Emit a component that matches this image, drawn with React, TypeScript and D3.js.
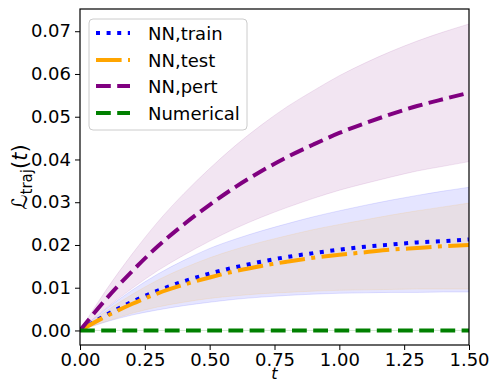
import { useEffect, useRef } from 'react';
import * as d3 from 'd3';

// sample times
const tValues = [0, 0.1, 0.2, 0.3, 0.4, 0.5, 0.6, 0.7, 0.8, 0.9, 1.0, 1.1, 1.2, 1.3, 1.4, 1.5];

// NN, train
const trainMean = [0, 0.0036, 0.0067, 0.0093, 0.0115, 0.0133, 0.0148, 0.0161, 0.0172, 0.0181, 0.0189, 0.0196, 0.0201, 0.0206, 0.0209, 0.0213];
const trainUpper = [0, 0.0050, 0.0094, 0.0132, 0.0164, 0.0192, 0.0214, 0.0233, 0.0250, 0.0266, 0.0280, 0.0293, 0.0305, 0.0316, 0.0326, 0.0335];
const trainLower = [0, 0.0020, 0.0036, 0.0048, 0.0058, 0.0066, 0.0073, 0.0078, 0.0082, 0.0085, 0.0087, 0.0088, 0.0089, 0.0089, 0.0090, 0.0090];

// NN, test
const testMean = [0, 0.0033, 0.0062, 0.0087, 0.0107, 0.0124, 0.0139, 0.0151, 0.0161, 0.0170, 0.0177, 0.0183, 0.0189, 0.0193, 0.0197, 0.0200];
const testUpper = [0, 0.0045, 0.0084, 0.0118, 0.0146, 0.0170, 0.0190, 0.0207, 0.0222, 0.0236, 0.0248, 0.0259, 0.0270, 0.0280, 0.0289, 0.0298];
const testLower = [0, 0.0021, 0.0040, 0.0055, 0.0066, 0.0075, 0.0081, 0.0086, 0.0089, 0.0092, 0.0094, 0.0095, 0.0096, 0.0097, 0.0097, 0.0097];

// NN, pert
const pertMean = [0, 0.0073, 0.0138, 0.0197, 0.0248, 0.0294, 0.0336, 0.0373, 0.0406, 0.0435, 0.0462, 0.0485, 0.0506, 0.0525, 0.0541, 0.0556];
const pertUpper = [0, 0.0094, 0.0178, 0.0254, 0.0320, 0.0379, 0.0433, 0.0481, 0.0524, 0.0561, 0.0596, 0.0626, 0.0653, 0.0677, 0.0698, 0.0717];
const pertLower = [0, 0.0052, 0.0098, 0.0140, 0.0176, 0.0209, 0.0239, 0.0265, 0.0288, 0.0309, 0.0328, 0.0344, 0.0359, 0.0373, 0.0384, 0.0395];

// Numerical
const numMean = [0, 0, 0, 0, 0, 0, 0, 0, 0, 0, 0, 0, 0, 0, 0, 0];

const xTicks = [0, 0.25, 0.5, 0.75, 1.0, 1.25, 1.5];
const yTicks = [0, 0.01, 0.02, 0.03, 0.04, 0.05, 0.06, 0.07];

const series = [
    { label: 'NN,train', mean: trainMean, upper: trainUpper, lower: trainLower, color: '#0000ff', dash: '4,6.6' },
    { label: 'NN,test', mean: testMean, upper: testUpper, lower: testLower, color: '#ffa500', dash: '25.6,6.4,4,6.4' },
    { label: 'NN,pert', mean: pertMean, upper: pertUpper, lower: pertLower, color: '#800080', dash: '14.8,6.4' },
    { label: 'Numerical', mean: numMean, upper: numMean, lower: numMean, color: '#008000', dash: '14.8,6.4' },
];

export default function App() {
    const svgRef = useRef<SVGSVGElement>(null);

    useEffect(() => {
        if (!svgRef.current) return;
        const svg = d3.select(svgRef.current);
        svg.selectAll('*').remove();

        const font = 'DejaVu Sans, sans-serif';
        const left = 80, right = 469, top = 9, bottom = 345;

        const x = d3.scaleLinear().domain([0, 1.5]).range([left, right]);
        const y = d3.scaleLinear().domain([-0.0034, 0.0752]).range([bottom, top]);

        svg.append('defs').append('clipPath').attr('id', 'plot-clip')
            .append('rect')
            .attr('x', left).attr('y', top)
            .attr('width', right - left).attr('height', bottom - top);

        const plot = svg.append('g').attr('clip-path', 'url(#plot-clip)');

        // Bands
        series.forEach(s => {
            const area = d3.area<number>()
                .x((_, i) => x(tValues[i]))
                .y0((_, i) => y(s.lower[i]))
                .y1((_, i) => y(s.upper[i]))
                .curve(d3.curveMonotoneX);
            plot.append('path')
                .attr('d', area(s.mean))
                .attr('fill', s.color)
                .attr('fill-opacity', 0.1)
                .attr('stroke', s.color)
                .attr('stroke-opacity', 0.1)
                .attr('stroke-width', 1);
        });

        // Mean lines
        series.forEach(s => {
            const line = d3.line<number>()
                .x((_, i) => x(tValues[i]))
                .y(d => y(d))
                .curve(d3.curveMonotoneX);
            plot.append('path')
                .attr('d', line(s.mean))
                .attr('fill', 'none')
                .attr('stroke', s.color)
                .attr('stroke-width', 4)
                .attr('stroke-dasharray', s.dash);
        });

        // Axes
        const xAxis = svg.append('g')
            .attr('transform', `translate(0,${bottom})`)
            .call(d3.axisBottom(x).tickValues(xTicks).tickFormat(d3.format('.2f')).tickSize(5).tickPadding(3));
        const yAxis = svg.append('g')
            .attr('transform', `translate(${left},0)`)
            .call(d3.axisLeft(y).tickValues(yTicks).tickFormat(d3.format('.2f')).tickSize(5).tickPadding(4));
        [xAxis, yAxis].forEach(a => {
            a.select('.domain').remove();
            a.selectAll('.tick line').attr('stroke', '#000').attr('stroke-width', 1);
            a.selectAll('.tick text')
                .attr('fill', '#000')
                .attr('font-family', font)
                .attr('font-size', 18);
        });

        // Frame
        svg.append('rect')
            .attr('x', left).attr('y', top)
            .attr('width', right - left).attr('height', bottom - top)
            .attr('fill', 'none')
            .attr('stroke', '#000')
            .attr('stroke-width', 1.2);

        // X label
        svg.append('text')
            .attr('x', (left + right) / 2)
            .attr('y', 379)
            .attr('text-anchor', 'middle')
            .attr('font-family', font)
            .attr('font-style', 'italic')
            .attr('font-size', 16)
            .text('t');

        // Y label
        const yl = svg.append('text')
            .attr('transform', `translate(27,${(top + bottom) / 2}) rotate(-90)`)
            .attr('text-anchor', 'middle')
            .attr('font-family', font)
            .attr('font-size', 21);
        yl.append('tspan').text('ℒ');
        yl.append('tspan').attr('font-size', 15).attr('dy', 5).text('traj');
        yl.append('tspan').attr('dy', -5).text('(');
        yl.append('tspan').attr('font-style', 'italic').text('t');
        yl.append('tspan').text(')');

        // Legend
        const legend = svg.append('g');
        legend.append('rect')
            .attr('x', 89).attr('y', 19)
            .attr('width', 158).attr('height', 111)
            .attr('rx', 4)
            .attr('fill', '#fff')
            .attr('fill-opacity', 0.8)
            .attr('stroke', '#cccccc')
            .attr('stroke-width', 1);
        const rowY = [33, 60, 86, 113];
        series.forEach((s, i) => {
            legend.append('line')
                .attr('x1', 96).attr('x2', 130)
                .attr('y1', rowY[i]).attr('y2', rowY[i])
                .attr('stroke', s.color)
                .attr('stroke-width', 4)
                .attr('stroke-dasharray', s.dash);
            legend.append('text')
                .attr('x', 148)
                .attr('y', rowY[i] + 6.5)
                .attr('font-family', font)
                .attr('font-size', 18)
                .attr('fill', '#000')
                .text(s.label);
        });
    }, []);

    return (
        <svg
            ref={svgRef}
            width={492}
            height={383}
            style={{ position: 'absolute', left: 0, top: 0, background: '#fff' }}
        />
    );
}
